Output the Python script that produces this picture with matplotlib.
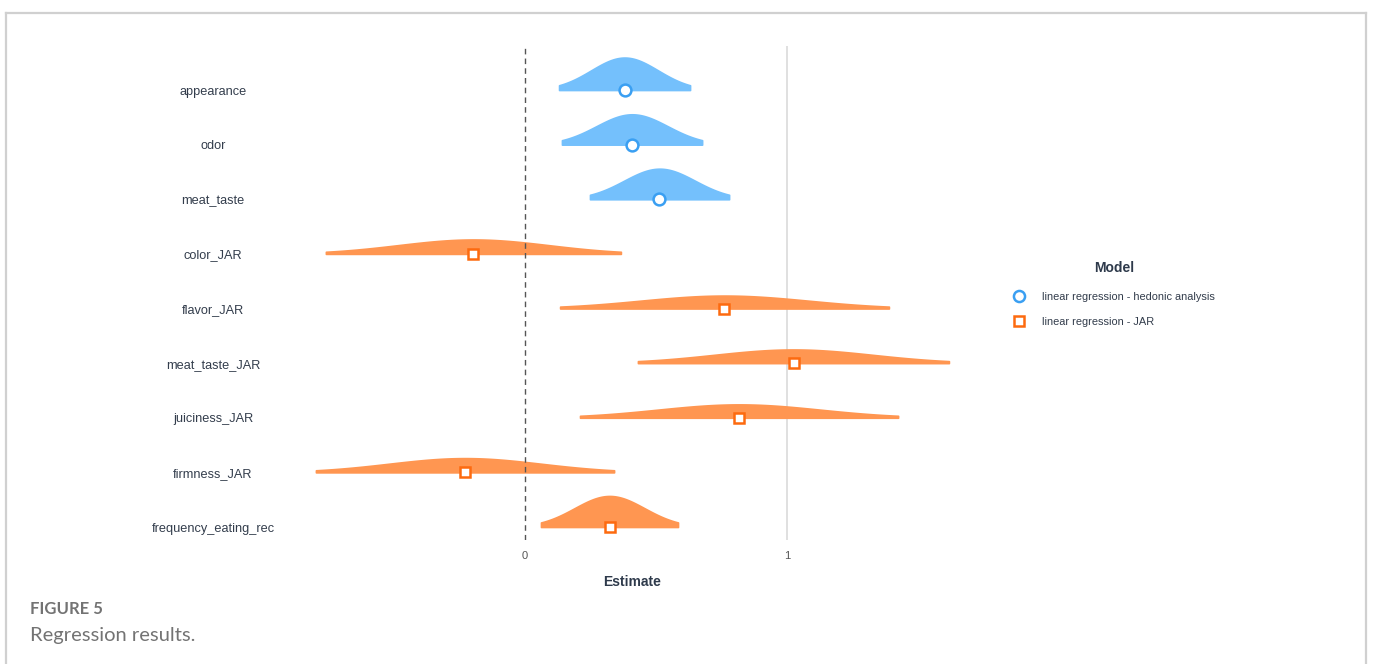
import numpy as np
import matplotlib
matplotlib.use("Agg")
import matplotlib.pyplot as plt
from matplotlib.lines import Line2D
from matplotlib.transforms import blended_transform_factory

# Regression coefficients with 95% confidence bounds
terms = ["appearance", "odor", "meat_taste", "color_JAR", "flavor_JAR",
         "meat_taste_JAR", "juiciness_JAR", "firmness_JAR", "frequency_eating_rec"]
models = ["hedonic", "hedonic", "hedonic", "JAR", "JAR", "JAR", "JAR", "JAR", "JAR"]
estimates = [0.380, 0.408, 0.513, -0.197, 0.761, 1.025, 0.817, -0.229, 0.323]
ci_low = [0.130, 0.141, 0.248, -0.760, 0.134, 0.431, 0.210, -0.798, 0.061]
ci_high = [0.630, 0.676, 0.779, 0.366, 1.389, 1.618, 1.424, 0.340, 0.584]
x_ticks = [0, 1]
legend_labels = {"hedonic": "linear regression - hedonic analysis",
                 "JAR": "linear regression - JAR"}

fill_colors = {"hedonic": "#74c0fc", "JAR": "#ff9651"}
edge_colors = {"hedonic": "#3a9ff2", "JAR": "#fd6a0f"}
marker_shapes = {"hedonic": "o", "JAR": "s"}

plt.rcParams["font.family"] = ["Liberation Sans", "DejaVu Sans"]

W, H = 1373, 664
fig = plt.figure(figsize=(W / 100, H / 100), dpi=100)
ax = fig.add_axes([300 / W, 1 - 540 / H, 664 / W, 494 / H])

height_scale = 0.19
for i, (lo, hi, est, m) in enumerate(zip(ci_low, ci_high, estimates, models)):
    se = (hi - lo) / (2 * 1.96)
    mu = (hi + lo) / 2
    xs = np.linspace(lo, hi, 300)
    dens = np.exp(-0.5 * ((xs - mu) / se) ** 2) / (se * np.sqrt(2 * np.pi))
    ax.fill_between(xs, i, i - height_scale * dens, color=fill_colors[m],
                    linewidth=1.2, edgecolor=fill_colors[m], zorder=2)
    ax.plot([est], [i], marker=marker_shapes[m], markersize=8.5 if m == "hedonic" else 7.5,
            markerfacecolor="white", markeredgecolor=edge_colors[m],
            markeredgewidth=1.8, linestyle="none", zorder=4)

ax.axvline(0, color="#555555", linewidth=1, linestyle=(0, (4, 3)), zorder=3)
ax.axvline(1, color="#dddddd", linewidth=1.3, zorder=1)

ax.set_xlim((300 - 525) / 262, (964 - 525) / 262)
ax.set_ylim(8.238, -0.806)
for s in ax.spines.values():
    s.set_visible(False)
ax.set_xticks(x_ticks)
ax.set_xticklabels([str(t) for t in x_ticks])
ax.tick_params(axis="x", length=0, pad=8, labelsize=8, labelcolor="#555555")
ax.set_yticks([])
ax.set_xlabel("Estimate", fontsize=10, fontweight="bold", color="#2e3a4b", labelpad=10)

label_tf = blended_transform_factory(fig.transFigure, ax.transData)
for i, t in enumerate(terms):
    ax.text(213 / W, i + 0.03, t, transform=label_tf, ha="center", va="center",
            fontsize=9.2, color="#333d4c")

handles = [Line2D([], [], marker=marker_shapes[k], linestyle="none",
                  markerfacecolor="white", markeredgecolor=edge_colors[k],
                  markeredgewidth=1.8, markersize=8 if k == "hedonic" else 7.5)
           for k in ["hedonic", "JAR"]]
leg = fig.legend(handles, [legend_labels[k] for k in ["hedonic", "JAR"]],
                 loc="upper left", bbox_to_anchor=(1003 / W, 1 - 251 / H),
                 frameon=False, fontsize=7.9, title="Model",
                 title_fontproperties={"weight": "bold", "size": 10},
                 labelspacing=1.4, handletextpad=1.5, handlelength=1.2)
leg._legend_box.sep = 12
leg.get_title().set_color("#2e3a4b")
for txt in leg.get_texts():
    txt.set_color("#333d4c")

# outer frame of the figure panel
frame_kw = dict(transform=fig.transFigure, color="#d0d0d0", linewidth=1.6)
fig.add_artist(Line2D([6 / W, 6 / W], [0, 1 - 13 / H], **frame_kw))
fig.add_artist(Line2D([6 / W, 1366 / W], [1 - 13 / H, 1 - 13 / H], **frame_kw))
fig.add_artist(Line2D([1366 / W, 1366 / W], [0, 1 - 13 / H], **frame_kw))

fig.text(30 / W, 1 - 609 / H, "FIGURE 5", fontsize=12, fontweight="bold",
         color="#737373", family=["Lato", "DejaVu Sans"], va="center")
fig.text(30 / W, 1 - 636 / H, "Regression results.", fontsize=14.5,
         color="#737373", family=["Lato", "DejaVu Sans"], va="center")

fig.savefig("out.png", dpi=100)
